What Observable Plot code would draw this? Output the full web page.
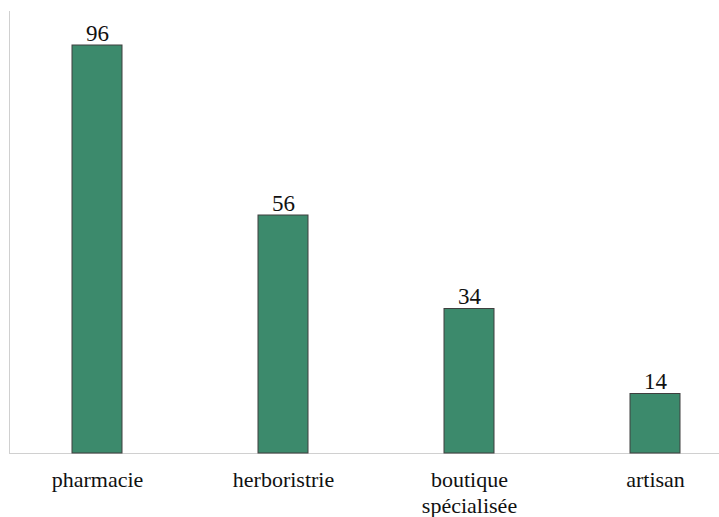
<!DOCTYPE html>
<html>
<head>
<meta charset="utf-8">
<script src="https://cdn.jsdelivr.net/npm/d3@7"></script>
<script src="https://cdn.jsdelivr.net/npm/@observablehq/plot@0.6"></script>
<style>
  html, body { margin: 0; padding: 0; background: #fff; }
  svg text { font-family: "Liberation Serif", "Times New Roman", serif !important; }
</style>
</head>
<body>
<div id="chart"></div>
<script>
const categories = ["pharmacie", "herboristrie", "boutique spécialisée", "artisan"];
const values = [96, 56, 34, 14];
const tickLabels = ["pharmacie", "herboristrie", "boutique\nspécialisée", "artisan"];

const data = categories.map((c, i) => ({category: c, value: values[i], label: tickLabels[i]}));

const FONT = "Liberation Serif";

// left axis line, drawn along the frame's left edge
const leftLine = (index, scales, values, dims) => {
  const g = d3.create("svg:line")
    .attr("x1", dims.marginLeft + 0.5)
    .attr("x2", dims.marginLeft + 0.5)
    .attr("y1", dims.marginTop)
    .attr("y2", dims.height - dims.marginBottom)
    .attr("stroke", "#d0d0d0")
    .attr("stroke-width", 1);
  return g.node();
};

const chart = Plot.plot({
  width: 719,
  height: 517,
  marginTop: 11,
  marginBottom: 64,
  marginLeft: 9,
  marginRight: 0,
  style: {fontFamily: FONT, background: "#fff"},
  x: {domain: categories, range: [71, 680.5], paddingInner: 0.732, paddingOuter: 0, axis: null},
  y: {domain: [0, 104], axis: null},
  marks: [
    leftLine,
    Plot.ruleY([0], {stroke: "#d0d0d0", strokeWidth: 1}),
    Plot.barY(data, {x: "category", y: "value", fill: "#3c8a6c", stroke: "#3f3f3f", strokeWidth: 1}),
    Plot.text(data, {x: "category", y: "value", text: d => String(d.value), lineAnchor: "bottom", dy: -5, fontSize: 23, fontFamily: FONT, fill: "#111"}),
    Plot.text(data, {x: "category", text: "label", frameAnchor: "bottom", lineAnchor: "top", dy: 15, fontSize: 22, lineHeight: 1.18, fontFamily: FONT, fill: "#111"})
  ]
});

document.getElementById("chart").appendChild(chart);
</script>
</body>
</html>
